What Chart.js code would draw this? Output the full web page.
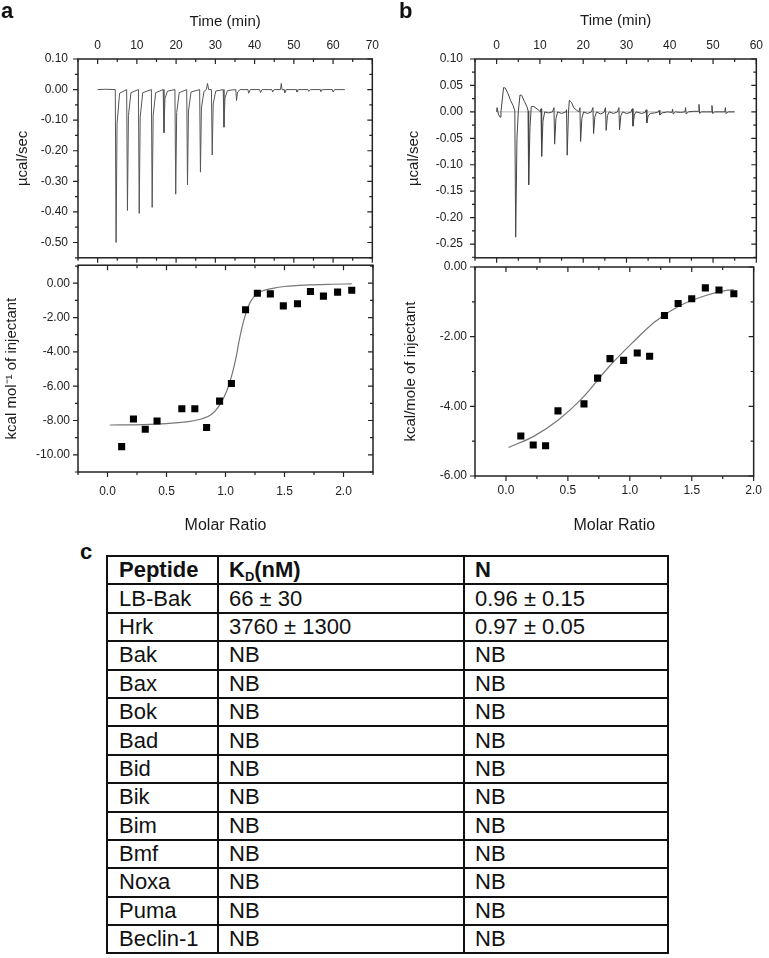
<!DOCTYPE html>
<html>
<head>
<meta charset="utf-8">
<script src="https://cdn.jsdelivr.net/npm/chart.js@4.4.0/dist/chart.umd.min.js"></script>
<style>
  body { margin: 0; background: #fff; font-family: "Liberation Sans", Arial, sans-serif; }
  #page { position: relative; width: 769px; height: 958px; overflow: hidden; background: #fff; }
  canvas { position: absolute; }
  .lab { position: absolute; font-weight: bold; font-size: 22px; line-height: 22px; color: #111; }
  table { position: absolute; left: 106px; top: 555px; width: 561px; border-collapse: collapse;
          table-layout: fixed; font-size: 22px; color: #111; }
  td { border: 2px solid #111; height: 26.4px; padding: 0 0 0 10px; line-height: 24px; white-space: nowrap; }
  td:first-child { padding-left: 11px; }
  th { border: 2px solid #111; height: 26.4px; padding: 0 0 0 10px; line-height: 24px; text-align: left; }
  th:first-child { padding-left: 11px; }
  sub { font-size: 13px; vertical-align: -4px; line-height: 0; }
</style>
</head>
<body>
<div id="page">
  <canvas id="rawA" width="385" height="275" style="left:0;top:0"></canvas>
  <canvas id="rawB" width="384" height="277" style="left:385px;top:0"></canvas>
  <canvas id="heatA" width="385" height="287" style="left:0;top:250px"></canvas>
  <canvas id="heatB" width="384" height="287" style="left:385px;top:250px"></canvas>
  <div class="lab" style="left:1px;top:0">a</div>
  <div class="lab" style="left:399px;top:0">b</div>
  <div class="lab" style="left:80px;top:541px">c</div>
  <table id="tbl">
    <colgroup><col style="width:111px"><col style="width:246px"><col style="width:204px"></colgroup>
    <thead><tr><th>Peptide</th><th>K<sub>D</sub>(nM)</th><th>N</th></tr></thead>
    <tbody></tbody>
  </table>
</div>
<script>
// ---- panel a: raw titration (time, min / power, ucal/sec) ----
const timeA = [
  0, 2.0, 4.5, 4.7, 4.95, 5.6,
  7.4, 7.6, 7.85, 8.5,
  10.4, 10.6, 10.85, 11.5,
  13.7, 13.9, 14.15, 14.8,
  16.7, 16.9, 17.15, 17.8,
  19.7, 19.9, 20.15, 20.8,
  22.7, 22.9, 23.15, 23.8,
  26.0, 26.2, 26.45, 27.1,
  27.7, 28.0, 28.3,
  29.0, 29.2, 29.45, 30.1,
  32.0, 32.2, 32.45, 33.1,
  35.2, 35.4, 35.65, 36.3,
  38.3, 38.5, 38.9,
  41.3, 41.5, 41.9,
  44.4, 44.6, 45.0,
  46.6, 46.8, 47.0,
  47.5, 47.7, 48.1,
  50.6, 50.8, 51.2,
  53.6, 53.8, 54.2,
  56.7, 56.9, 57.3,
  59.8, 60.0, 60.4,
  63.0
];
const powerA = [
  0, 0.001, 0, -0.50, -0.11, -0.012,
  0, -0.395, -0.085, -0.01,
  0, -0.405, -0.09, -0.01,
  0, -0.385, -0.085, -0.01,
  0, -0.141, -0.03, -0.005,
  0, -0.342, -0.075, -0.01,
  0, -0.312, -0.07, -0.008,
  0, -0.27, -0.06, -0.006,
  0, 0.02, 0,
  0, -0.214, -0.047, -0.005,
  0, -0.123, -0.027, -0.003,
  0, -0.036, -0.008, 0,
  0, -0.012, 0,
  0, -0.01, 0,
  0, -0.008, 0,
  0, 0.02, 0,
  0, -0.01, 0,
  0, -0.008, 0,
  0, -0.006, 0,
  0, -0.006, 0,
  0, -0.008, 0,
  0
];

// ---- panel a: integrated heats (molar ratio / kcal per mol) ----
const ratioA = [0.12, 0.22, 0.32, 0.42, 0.63, 0.74, 0.84, 0.95, 1.05, 1.17, 1.27, 1.38, 1.49, 1.61, 1.72, 1.83, 1.95, 2.07];
const heatA  = [-9.52, -7.91, -8.51, -8.03, -7.31, -7.31, -8.41, -6.87, -5.84, -1.55, -0.58, -0.62, -1.32, -1.2, -0.48, -0.75, -0.52, -0.41];
const fitRatioA = [0.02, 0.3, 0.5, 0.7, 0.8, 0.88, 0.94, 0.99, 1.03, 1.06, 1.09, 1.12, 1.15, 1.18, 1.21, 1.25, 1.3, 1.4, 1.5, 1.7, 1.9, 2.07];
const fitHeatA  = [-8.26, -8.24, -8.18, -8.05, -7.9, -7.65, -7.2, -6.6, -5.9, -5.2, -4.3, -3.2, -2.3, -1.6, -1.1, -0.72, -0.48, -0.3, -0.19, -0.1, -0.06, -0.04];

// ---- panel b: raw titration ----
const timeB = [
  0, 0.1, 0.4, 0.8, 1.0, 1.6, 2.0, 2.6, 3.2, 3.8, 4.2, 4.4, 4.7, 5.0,
  5.4, 5.8, 6.4, 7.0, 7.25, 7.4, 7.7, 8.0,
  8.6, 9.6, 10.1, 10.25, 10.4, 10.7, 11.1,
  12.0, 12.9, 13.25, 13.4, 13.7, 14.1,
  15.0, 16.0, 16.15, 16.3, 16.6, 16.8, 17.3, 17.8, 18.5,
  19.0, 19.25, 19.4, 19.7, 20.1,
  21.0, 21.9, 22.25, 22.4, 22.7, 23.1,
  24.0, 24.8, 25.15, 25.3, 25.6, 26.0,
  27.0, 27.9, 28.25, 28.4, 28.7, 29.1,
  30.0, 31.0, 31.35, 31.5, 31.8, 32.2,
  33.5, 34.3, 34.55, 34.7, 35.0, 35.5,
  36.5, 37.4, 37.55, 37.7, 38.2,
  39.5, 40.5, 40.65, 40.8, 41.3,
  42.5, 43.5, 43.65, 43.8, 44.3,
  45.5, 46.6, 46.75, 46.9, 47.3,
  48.5, 49.6, 49.75, 49.9, 50.4,
  51.5, 52.7, 52.85, 53.0, 53.5,
  55.0
];
const powerB = [
  0, 0.008, -0.004, -0.01, 0.0, 0.046, 0.045, 0.035, 0.022, 0.012, 0.002, -0.237, -0.05, 0.0,
  0.032, 0.031, 0.02, 0.01, 0.002, -0.138, -0.03, 0.01,
  0.01, 0.004, 0.0, 0.006, -0.084, -0.018, 0.0,
  -0.002, 0.0, 0.008, -0.061, -0.013, 0.0,
  -0.003, 0.0, 0.004, -0.082, 0.0, 0.022, 0.018, 0.008, 0.003,
  0.0, 0.008, -0.056, -0.012, 0.0,
  -0.003, 0.0, 0.008, -0.041, -0.009, 0.0,
  -0.004, -0.001, 0.008, -0.035, -0.007, 0.0,
  -0.003, 0.0, 0.008, -0.034, -0.007, 0.0,
  -0.003, -0.001, 0.006, -0.027, -0.006, 0.0,
  -0.003, -0.001, 0.004, -0.021, -0.008, -0.003,
  -0.002, 0.0, 0.003, -0.006, -0.002,
  0.0, -0.001, 0.005, -0.004, 0.0,
  -0.001, 0.0, 0.008, -0.004, 0.0,
  0.001, 0.001, 0.014, -0.003, 0.0,
  0.0, 0.0, 0.012, -0.003, 0.0,
  0.0, 0.0, 0.008, -0.003, 0.0,
  0.0
];
const baselineTimeB = [0, 55];
const baselineB = [0, 0];

// ---- panel b: integrated heats ----
const ratioB = [0.12, 0.22, 0.32, 0.42, 0.63, 0.74, 0.84, 0.95, 1.06, 1.16, 1.28, 1.39, 1.50, 1.61, 1.72, 1.84];
const heatB  = [-4.85, -5.11, -5.13, -4.13, -3.93, -3.19, -2.63, -2.68, -2.47, -2.56, -1.39, -1.05, -0.91, -0.6, -0.66, -0.77];
const fitRatioB = [0.02, 0.22, 0.42, 0.62, 0.83, 1.02, 1.2, 1.41, 1.62, 1.78, 1.84];
const fitHeatB  = [-5.18, -4.87, -4.4, -3.75, -2.87, -2.18, -1.58, -1.1, -0.81, -0.67, -0.65];

// ---- tick values ----
const timeTicksA = [0, 10, 20, 30, 40, 50, 60, 70];
const timeTicksB = [0, 10, 20, 30, 40, 50, 60];
const powerTicksA = [-0.5, -0.4, -0.3, -0.2, -0.1, 0, 0.1];
const powerTicksB = [-0.25, -0.2, -0.15, -0.1, -0.05, 0, 0.05, 0.1];
const ratioTicks = [0, 0.5, 1, 1.5, 2];
const heatTicksA = [-10, -8, -6, -4, -2, 0];
const heatTicksB = [-6, -4, -2, 0];

// ---- table c ----
const peptides = ['LB-Bak', 'Hrk', 'Bak', 'Bax', 'Bok', 'Bad', 'Bid', 'Bik', 'Bim', 'Bmf', 'Noxa', 'Puma', 'Beclin-1'];
const kdValues = ['66 ± 30', '3760 ± 1300', 'NB', 'NB', 'NB', 'NB', 'NB', 'NB', 'NB', 'NB', 'NB', 'NB', 'NB'];
const nValues  = ['0.96 ± 0.15', '0.97 ± 0.05', 'NB', 'NB', 'NB', 'NB', 'NB', 'NB', 'NB', 'NB', 'NB', 'NB', 'NB'];

const tbody = document.querySelector('#tbl tbody');
peptides.forEach(function(p, i) {
  const tr = document.createElement('tr');
  [p, kdValues[i], nValues[i]].forEach(function(txt) {
    const td = document.createElement('td');
    td.textContent = txt;
    tr.appendChild(td);
  });
  tbody.appendChild(tr);
});

Chart.defaults.font.family = '"Liberation Sans", Arial, sans-serif';
Chart.defaults.color = '#222';

function pts(xs, ys) {
  return xs.map(function(x, i) { return {x: x, y: ys[i]}; });
}
function setTicks(values) {
  return function(scale) { scale.ticks = values.map(function(v) { return {value: v}; }); };
}

// box with mirrored tick marks: left/bottom outward, top/right inward
const frameTicks = {
  id: 'frameTicks',
  afterDatasetsDraw(chart) {
    const ctx = chart.ctx, a = chart.chartArea;
    const xs = chart.scales.x, ys = chart.scales.y;
    function marks(scale) {
      const vals = scale.ticks.map(function(t) { return t.value; });
      const step = vals[1] - vals[0];
      const out = vals.map(function(v) { return [v, 5]; });
      for (let v = vals[0] - step / 2; v <= scale.max + 1e-9; v += step) {
        if (v >= scale.min - 1e-9) out.push([v, 3]);
      }
      return out;
    }
    ctx.save();
    ctx.strokeStyle = '#222';
    ctx.lineWidth = 1.5;
    ctx.strokeRect(a.left, a.top, a.right - a.left, a.bottom - a.top);
    ctx.lineWidth = 1.2;
    ctx.beginPath();
    marks(xs).forEach(function(m) {
      const px = xs.getPixelForValue(m[0]);
      ctx.moveTo(px, a.top); ctx.lineTo(px, a.top + m[1]);
      ctx.moveTo(px, a.bottom); ctx.lineTo(px, a.bottom + m[1]);
    });
    marks(ys).forEach(function(m) {
      const py = ys.getPixelForValue(m[0]);
      ctx.moveTo(a.left - m[1], py); ctx.lineTo(a.left, py);
      ctx.moveTo(a.right - m[1], py); ctx.lineTo(a.right, py);
    });
    ctx.stroke();
    ctx.restore();
  }
};

function axis(opt) {
  return {
    type: 'linear',
    position: opt.position,
    min: opt.min,
    max: opt.max,
    afterBuildTicks: setTicks(opt.ticks),
    afterFit: function(scale) {
      if (scale.isHorizontal()) scale.height = opt.size; else scale.width = opt.size;
    },
    grid: {display: false, drawTicks: false},
    border: {display: false},
    ticks: {
      padding: opt.pad,
      autoSkip: false,
      maxRotation: 0,
      font: {size: 12},
      color: '#222',
      callback: function(v) { return opt.digits == null ? v : Number(v).toFixed(opt.digits); }
    },
    title: {
      display: true,
      text: opt.title,
      font: {size: opt.titleSize || 15},
      color: '#1a1a1a',
      padding: {top: opt.titlePad, bottom: opt.titlePadBottom || 0}
    }
  };
}

function baseOptions(padding, xAxis, yAxis) {
  return {
    responsive: false,
    animation: false,
    devicePixelRatio: 1,
    layout: {padding: padding},
    plugins: {legend: {display: false}, tooltip: {enabled: false}},
    scales: {x: xAxis, y: yAxis}
  };
}

// a, raw
new Chart(document.getElementById('rawA'), {
  type: 'line',
  data: {datasets: [{
    data: pts(timeA, powerA), borderColor: '#555', borderWidth: 1, pointRadius: 0, tension: 0
  }]},
  options: baseOptions({left: 0, right: 12, top: 0, bottom: 10},
    axis({position: 'top', min: -5, max: 70, ticks: timeTicksA, size: 59, pad: 6, title: 'Time (min)', titlePad: 13}),
    axis({position: 'left', min: -0.55, max: 0.10, ticks: powerTicksA, size: 78, pad: 10, digits: 2, title: 'µcal/sec', titlePad: 14})),
  plugins: [frameTicks]
});

// b, raw
new Chart(document.getElementById('rawB'), {
  type: 'line',
  data: {datasets: [
    {data: pts(timeB, powerB), borderColor: '#444', borderWidth: 1, pointRadius: 0, tension: 0},
    {data: pts(baselineTimeB, baselineB), borderColor: '#bbb', borderWidth: 1, pointRadius: 0}
  ]},
  options: baseOptions({left: 0, right: 10, top: 0, bottom: 10},
    axis({position: 'top', min: -5, max: 60, ticks: timeTicksB, size: 59, pad: 6, title: 'Time (min)', titlePad: 12}),
    axis({position: 'left', min: -0.276, max: 0.10, ticks: powerTicksB, size: 90, pad: 12, digits: 2, title: 'µcal/sec', titlePad: 20})),
  plugins: [frameTicks]
});

// a, heats
new Chart(document.getElementById('heatA'), {
  type: 'line',
  data: {datasets: [
    {data: pts(ratioA, heatA), showLine: false, pointStyle: 'rect', pointRadius: 5,
     pointBackgroundColor: '#000', pointBorderColor: '#000', pointBorderWidth: 0},
    {data: pts(fitRatioA, fitHeatA), borderColor: '#777', borderWidth: 1.2, pointRadius: 0,
     cubicInterpolationMode: 'monotone'}
  ]},
  options: baseOptions({left: 0, right: 12, top: 15, bottom: 0},
    axis({position: 'bottom', min: -0.25, max: 2.25, ticks: ratioTicks, size: 65, pad: 12, digits: 1,
          title: 'Molar Ratio', titleSize: 16, titlePad: 0, titlePadBottom: 2}),
    axis({position: 'left', min: -11, max: 1.05, ticks: heatTicksA, size: 78, pad: 8, digits: 2,
          title: 'kcal mol⁻¹ of injectant', titlePad: 2.5})),
  plugins: [frameTicks]
});

// b, heats
new Chart(document.getElementById('heatB'), {
  type: 'line',
  data: {datasets: [
    {data: pts(ratioB, heatB), showLine: false, pointStyle: 'rect', pointRadius: 5,
     pointBackgroundColor: '#000', pointBorderColor: '#000', pointBorderWidth: 0},
    {data: pts(fitRatioB, fitHeatB), borderColor: '#777', borderWidth: 1.2, pointRadius: 0,
     cubicInterpolationMode: 'monotone'}
  ]},
  options: baseOptions({left: 0, right: 10, top: 17, bottom: 0},
    axis({position: 'bottom', min: -0.25, max: 2.0, ticks: ratioTicks, size: 61, pad: 7, digits: 1,
          title: 'Molar Ratio', titleSize: 16, titlePad: 0, titlePadBottom: 2}),
    axis({position: 'left', min: -6, max: 0, ticks: heatTicksB, size: 90, pad: 8, digits: 2,
          title: 'kcal/mole of injectant', titlePad: 16.5})),
  plugins: [frameTicks]
});
</script>
</body>
</html>
